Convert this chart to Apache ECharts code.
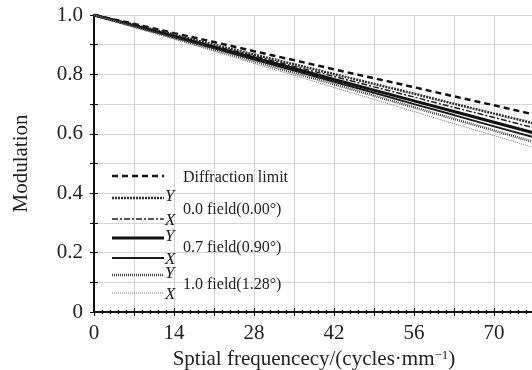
<!DOCTYPE html>
<html>
<head>
<meta charset="utf-8">
<script src="https://cdn.jsdelivr.net/npm/echarts@6/dist/echarts.min.js"></script>
<style>html,body{margin:0;padding:0;background:#fff}#c{width:532px;height:370px}</style>
</head>
<body>
<div id="c"></div>
<script>
const freq = [0, 7, 14, 21, 28, 35, 42, 49, 56, 63, 70, 77];
const diffraction = [1, 0.970, 0.939, 0.909, 0.878, 0.848, 0.817, 0.787, 0.757, 0.726, 0.696, 0.665];
const f00Y = [1, 0.967, 0.934, 0.900, 0.867, 0.834, 0.801, 0.768, 0.735, 0.701, 0.668, 0.635];
const f00X = [1, 0.965, 0.931, 0.896, 0.862, 0.827, 0.793, 0.758, 0.724, 0.689, 0.655, 0.620];
const f07Y = [1, 0.964, 0.928, 0.892, 0.856, 0.820, 0.783, 0.747, 0.711, 0.675, 0.639, 0.603];
const f07X = [1, 0.963, 0.925, 0.888, 0.850, 0.813, 0.775, 0.738, 0.700, 0.663, 0.625, 0.588];
const f10Y = [1, 0.961, 0.922, 0.883, 0.844, 0.805, 0.767, 0.728, 0.689, 0.650, 0.611, 0.572];
const f10X = [1, 0.959, 0.919, 0.878, 0.837, 0.797, 0.756, 0.716, 0.675, 0.634, 0.594, 0.553];
const xTickLabels = [0, 14, 28, 42, 56, 70];
const yTickLabels = ['0', '0.2', '0.4', '0.6', '0.8', '1.0'];
const legendTitles = ['Diffraction limit', '0.0 field(0.00°)', '0.7 field(0.90°)', '1.0 field(1.28°)'];

const pair = ys => freq.map((x, i) => [x, ys[i]]);
const FONT = '"Liberation Serif", "Times New Roman", serif';

const seriesDefs = [
  {name: 'Diffraction limit', data: diffraction, color: '#111', width: 2.5, dash: [6, 4]},
  {name: '0.0 Y', data: f00Y, color: '#333', width: 2.5, dash: [2, 1]},
  {name: '0.0 X', data: f00X, color: '#222', width: 1.5, dash: [6, 2, 2, 2]},
  {name: '0.7 Y', data: f07Y, color: '#111', width: 3, dash: 'solid'},
  {name: '0.7 X', data: f07X, color: '#1a1a1a', width: 2, dash: 'solid'},
  {name: '1.0 Y', data: f10Y, color: '#444', width: 2.5, dash: [1, 1]},
  {name: '1.0 X', data: f10X, color: '#777', width: 1, dash: [1, 1]}
];

const series = seriesDefs.map(s => ({
  name: s.name, type: 'line', showSymbol: false, animation: false,
  data: pair(s.data),
  lineStyle: {color: s.color, width: s.width, type: s.dash}
}));

// legend graphics
const gl = [];
const lx1 = 112, lx2 = 164, tx = 183;
const legendRows = [
  {y: 176, i: 0},
  {y: 198, i: 1, tag: 'Y'},
  {y: 219, i: 2, tag: 'X'},
  {y: 238, i: 3, tag: 'Y'},
  {y: 258, i: 4, tag: 'X'},
  {y: 275, i: 5, tag: 'Y'},
  {y: 293, i: 6, tag: 'X'}
];
legendRows.forEach(r => {
  const s = seriesDefs[r.i];
  gl.push({type: 'line', z: 100, shape: {x1: lx1, y1: r.y, x2: lx2, y2: r.y},
    style: {stroke: s.color, lineWidth: s.width, lineDash: s.dash === 'solid' ? null : s.dash}});
  if (r.tag) {
    gl.push({type: 'text', z: 100, style: {text: r.tag, x: 165, y: r.y + (r.tag === 'Y' ? -1 : 2), fill: '#222',
      font: 'italic 17px ' + FONT, verticalAlign: 'middle'}});
  }
});
const titleY = [178, 210, 248, 285];
legendTitles.forEach((t, i) => {
  gl.push({type: 'text', z: 100, style: {text: t, x: tx, y: titleY[i], fill: '#222',
    font: '16px ' + FONT, verticalAlign: 'middle'}});
});

const chart = echarts.init(document.getElementById('c'), null, {renderer: 'canvas'});
chart.setOption({
  animation: false,
  backgroundColor: '#fff',
  grid: {left: 94, top: 15, right: -2, bottom: 58, containLabel: false, outerBoundsMode: 'none'},
  xAxis: [{
    type: 'value', min: 0, max: 77, interval: 7, position: 'bottom',
    name: 'Sptial frequencecy/(cycles·mm{sup|−1})', nameLocation: 'middle', nameGap: 36,
    nameTextStyle: {fontFamily: FONT, fontSize: 21, color: '#222',
      rich: {sup: {fontFamily: FONT, fontSize: 13, color: '#222', verticalAlign: 'top', padding: [0, 0, 9, 0]}}},
    axisLine: {show: true, lineStyle: {color: '#111', width: 2}},
    axisTick: {show: true, inside: true, length: 4, lineStyle: {color: '#111'}},
    minorTick: {show: true, splitNumber: 5, length: 2, lineStyle: {color: '#111'}},
    splitLine: {show: true, lineStyle: {color: '#d4d4d4', width: 1}},
    axisLabel: {fontFamily: FONT, fontSize: 21, color: '#222', margin: 11, showMaxLabel: false,
      formatter: v => xTickLabels.indexOf(Math.round(v)) >= 0 ? String(Math.round(v)) : ''}
  }, {
    type: 'value', min: 0, max: 77, interval: 7, position: 'top',
    axisLine: {show: true, lineStyle: {color: '#111', width: 2}},
    axisTick: {show: true, inside: true, length: 4, lineStyle: {color: '#111'}},
    minorTick: {show: true, splitNumber: 5, length: 2, lineStyle: {color: '#111'}},
    splitLine: {show: false}, axisLabel: {show: false}
  }],
  yAxis: [{
    type: 'value', min: 0, max: 1, interval: 0.1, position: 'left',
    name: 'Modulation', nameLocation: 'middle', nameGap: 62, nameRotate: 90,
    nameTextStyle: {fontFamily: FONT, fontSize: 21, color: '#222'},
    axisLine: {show: true, lineStyle: {color: '#111', width: 2}},
    axisTick: {show: true, inside: true, length: 4, lineStyle: {color: '#111'}},
    splitLine: {show: true, lineStyle: {color: '#d4d4d4', width: 1}},
    axisLabel: {fontFamily: FONT, fontSize: 21, color: '#222', margin: 11,
      formatter: v => { const k = Math.round(v * 10); return k % 2 === 0 ? yTickLabels[k / 2] : ''; }}
  }, {
    type: 'value', min: 0, max: 1, interval: 0.1, position: 'right',
    axisLine: {show: true, lineStyle: {color: '#111', width: 2}},
    axisTick: {show: true, inside: true, length: 4, lineStyle: {color: '#111'}},
    splitLine: {show: false}, axisLabel: {show: false}
  }],
  series: series,
  graphic: gl
});
</script>
</body>
</html>
